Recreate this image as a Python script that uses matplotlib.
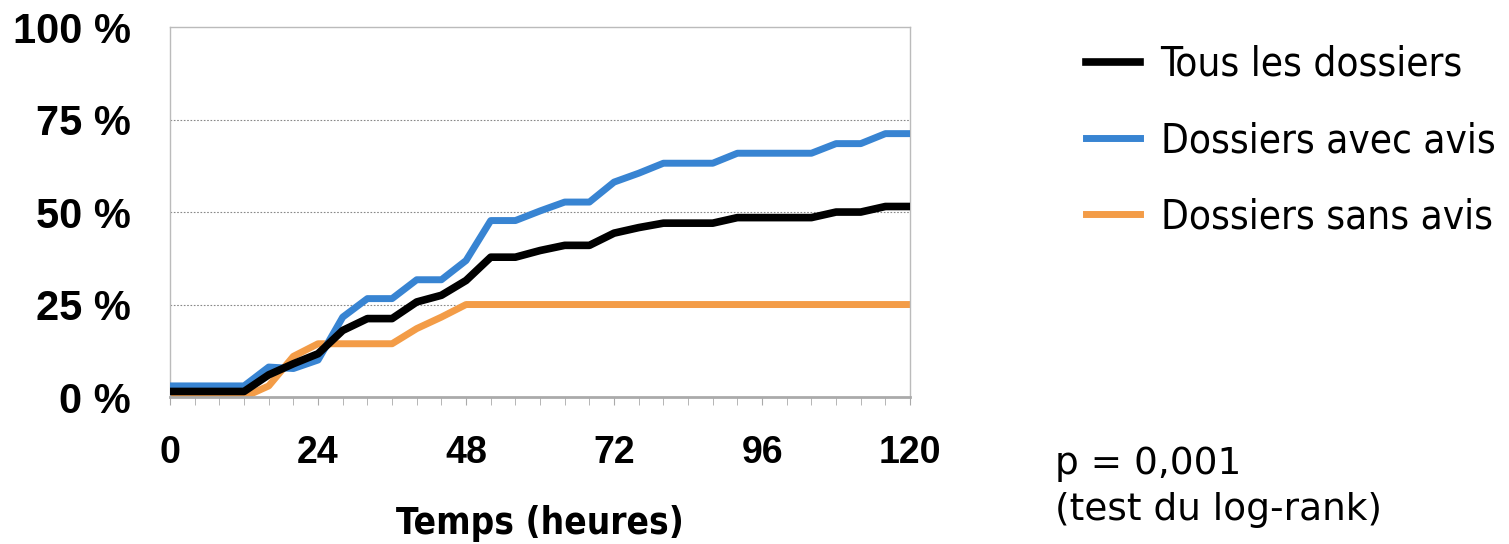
import matplotlib.pyplot as plt
from matplotlib import font_manager
from matplotlib.font_manager import FontProperties

# heures (pas de 4 h)
hours = list(range(0, 121, 4))

# % de dossiers
tous = [1.5, 1.5, 1.5, 1.5, 6, 9, 11.7, 18, 21.2, 21.2, 25.7, 27.5, 31.5,
        37.8, 37.8, 39.6, 41, 41, 44.3, 45.8, 47, 47, 47, 48.5, 48.5, 48.5,
        48.5, 50, 50, 51.5, 51.5]
avec_avis = [3, 3, 3, 3, 8.1, 7.7, 10, 21.6, 26.6, 26.6, 31.7, 31.7, 36.9,
             47.7, 47.7, 50.3, 52.7, 52.7, 58.1, 60.5, 63.2, 63.2, 63.2, 65.9,
             65.9, 65.9, 65.9, 68.5, 68.5, 71.2, 71.2]
sans_avis = [0, 0, 0, 0, 3, 11, 14.4, 14.4, 14.4, 14.4, 18.5, 21.6, 25,
             25, 25, 25, 25, 25, 25, 25, 25, 25, 25, 25, 25, 25, 25, 25, 25,
             25, 25]

labels = ['Tous les dossiers', 'Dossiers avec avis', 'Dossiers sans avis']
colors = ['black', '#3884D2', '#F39C47']

yticks = [0, 25, 50, 75, 100]
ytick_labels = ['0 %', '25 %', '50 %', '75 %', '100 %']
xticks = [0, 24, 48, 72, 96, 120]


def condensed(bold):
    # cherche une police étroite installée, sinon Liberation Sans
    for f in font_manager.fontManager.ttflist:
        fn = f.fname.lower()
        if ('condensed' in fn or 'narrow' in fn) and 'oblique' not in fn and 'italic' not in fn:
            isbold = 'bold' in fn
            if isbold == bold:
                return FontProperties(fname=f.fname), True
    return FontProperties(family='Liberation Sans', weight='bold' if bold else 'normal'), False


leg_fp, leg_cond = condensed(False)
lab_fp, lab_cond = condensed(True)

fig = plt.figure(figsize=(15.09, 5.44), dpi=100)
ax = fig.add_axes([0.1127, 0.2702, 0.4904, 0.680])

ax.plot(hours, avec_avis, color=colors[1], lw=5, label=labels[1], zorder=3)
ax.plot(hours, sans_avis, color=colors[2], lw=5, label=labels[2], zorder=2)
ax.plot(hours, tous, color=colors[0], lw=5.5, label=labels[0], zorder=4)

ax.set_xlim(0, 120)
ax.set_ylim(0, 100)
ax.set_yticks(yticks)
ax.set_yticklabels(ytick_labels, fontfamily='Liberation Sans', fontweight='bold', fontsize=30)
ax.set_xticks(xticks)
ax.set_xticklabels([str(x) for x in xticks], fontfamily='Liberation Sans', fontweight='bold', fontsize=27)
ax.set_xticks(range(0, 121, 4), minor=True)
ax.tick_params(axis='y', length=0, pad=28)
ax.tick_params(axis='x', which='both', direction='out', length=6, color='#aaaaaa', pad=21)
tl_fp = lab_fp.copy()
tl_fp.set_size(26.5 if lab_cond else 25)
ax.set_xlabel('Temps (heures)', fontproperties=tl_fp, labelpad=25)

for y in [25, 50, 75]:
    ax.axhline(y, color='#888888', lw=0.8, ls=(0, (1.5, 1.5)), zorder=1)
for side in ['top', 'left', 'right']:
    ax.spines[side].set_color('#bbbbbb')
    ax.spines[side].set_linewidth(1)
ax.spines['bottom'].set_color('#aaaaaa')
ax.spines['bottom'].set_linewidth(2)

handles, lbls = ax.get_legend_handles_labels()
order = [2, 0, 1]
lp = leg_fp.copy()
lp.set_size(29 if leg_cond else 28)
fig.legend([handles[i] for i in order], [lbls[i] for i in order],
           loc='upper left', bbox_to_anchor=(1086 / 1509, 1 - 45 / 544),
           frameon=False, borderpad=0, borderaxespad=0,
           handlelength=1.35, handletextpad=0.5, labelspacing=0.9,
           prop=lp)

fig.text(1055 / 1509, 1 - 474 / 544, 'p = 0,001', fontsize=27, fontfamily='DejaVu Sans')
fig.text(1055 / 1509, 1 - 520 / 544, '(test du log-rank)', fontsize=27, fontfamily='DejaVu Sans')

fig.savefig('out.png', dpi=100)
